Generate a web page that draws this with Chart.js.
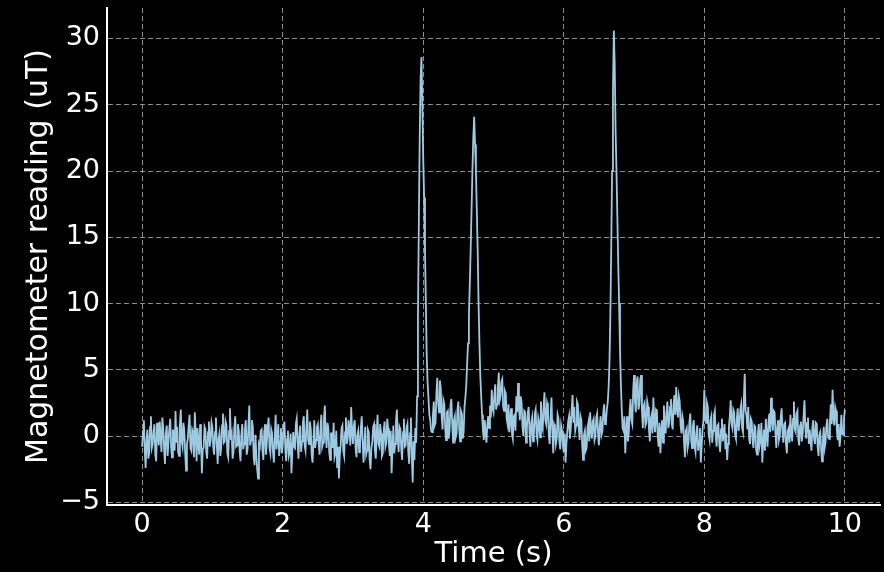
<!DOCTYPE html>
<html>
<head>
<meta charset="utf-8">
<script src="https://cdn.jsdelivr.net/npm/chart.js@4"></script>
<style>
  html, body { margin: 0; padding: 0; background: #000; }
  #wrap { width: 884px; height: 572px; }
</style>
</head>
<body>
<div id="wrap"><canvas id="chart" width="884" height="572"></canvas></div>
<script>
// sampling step of the readings (seconds)
const sampleStep = 0.0125;
const xTicks = [0, 2, 4, 6, 8, 10];
const yTicks = [-5, 0, 5, 10, 15, 20, 25, 30];

// magnetometer readings (uT), one every 12.5 ms from t = 0 to t = 10 s (one row = 0.5 s)
const readings = [
    -0.8, 0.4, 1.2, -1.1, -2.4, -0.3, 0.5, -1.7, -1.3, 0.7, 1.5, -0.9, -0.6, 0.3, 0.9, -1.4, -1.9, 1.0, 0.2, -0.7, 1.1, -0.1, -1.2, 1.4, 0.6, -1.0, -2.1, 0.2, 0.8, -1.5, -0.4, 0.6, 1.3, -0.8, -1.6, 0.5, 0.1, -1.1, 1.9, -0.5,
    0.7, -1.2, -1.5, 0.9, 2.0, -0.4, -0.8, 1.0, 0.4, -1.3, -2.6, -0.6, -0.2, 0.8, 1.6, -0.9, -1.1, 0.5, 0.3, -1.6, 1.8, 0.2, -1.9, 0.6, -0.5, -1.4, 0.9, -0.2, -2.8, -1.0, -0.9, 0.7, 0.5, -1.2, -1.7, 0.3, 1.1, -0.8, -0.3, 1.0,
    0.6, -0.9, -1.4, 0.3, 1.4, -0.6, -2.1, -0.2, 0.2, -1.5, -0.9, 0.8, 1.7, -0.5, -0.4, 1.1, 0.8, -1.3, -1.6, 0.4, 2.1, -0.3, 0.1, -1.7, -1.2, 0.6, 1.5, -0.8, -0.7, 0.9, 0.4, -1.2, -1.9, 0.1, 0.9, -1.0, -0.6, 0.5, 1.2, -1.4,
    -1.0, 0.8, 2.3, -0.7, -0.3, 1.2, 0.7, -1.6, -2.2, 0.1, -1.4, -2.5, -3.2, -0.6, -0.8, 0.4, 0.5, -1.1, -1.8, 0.3, 0.9, -1.4, -0.5, 0.7, 1.4, -0.9, -1.3, 0.5, 0.2, -1.2, -2.0, -0.1, 1.6, -1.0, -0.2, 0.9, -1.5, -0.4, 0.6, -1.3,
    -0.7, 0.6, 1.1, -1.0, -1.9, -0.2, 0.4, -1.5, -1.2, 0.2, -2.8, -1.1, 0.3, -0.8, -0.9, 0.9, 1.3, -0.5, -1.7, 0.1, 0.8, -1.2, -0.4, 1.0, 1.5, -0.7, -1.1, 0.6, 2.0, -0.3, -0.6, 1.1, 0.5, -1.4, -2.0, -0.5, 1.2, -0.9, -0.3, 0.7,
    0.9, -0.6, -1.4, 0.5, 1.6, -0.8, -0.5, 1.3, 2.3, 0.1, -0.9, 1.0, 0.6, -1.2, -1.8, 0.2, 0.2, -0.9, 1.0, -1.6, -1.3, 0.4, -2.4, -0.8, -3.2, -1.5, -0.7, 0.6, 0.8, -1.1, -1.5, 0.3, 1.4, -0.6, -0.2, 1.2, 0.5, -0.7, 2.2, 0.3,
    -0.6, 0.8, 1.2, -0.9, -1.6, 0.1, 0.4, -1.2, -0.9, 0.6, 1.5, -0.3, -2.0, -0.7, 0.7, -1.4, -1.1, 0.5, 0.3, -1.8, -2.5, -0.9, -0.4, 0.7, 0.9, -1.1, -1.7, 0.2, 1.6, -0.6, -0.8, 0.9, 0.2, -1.5, -1.3, 0.4, 1.1, -0.8, -0.5, 1.3,
    0.6, -0.7, -1.5, 0.4, -2.8, -0.9, 0.8, -1.3, -0.6, 1.1, 2.0, -0.2, -1.2, 0.7, 0.5, -1.0, -1.8, 0.3, 1.3, -0.8, -0.7, 0.6, 0.9, -1.2, -2.1, 0.2, 1.4, -1.6, -3.5, -0.4, -1.8, 0.6, -0.5, 3.0, 9.0, 16.0, 22.5, 27.0, 28.6, 25.0,
    21.0, 18.0, 14.0, 10.0, 6.0, 4.0, 2.8, 1.6, 1.2, 0.4, 0.3, 1.5, 2.6, 0.8, 1.0, 3.2, 4.4, 2.5, 1.8, 4.2, 3.6, 1.4, 0.5, 2.7, 2.4, 0.6, -0.3, 1.8, 1.9, -0.2, 0.4, 2.3, 2.8, 0.9, -0.5, 1.2, 1.5, -0.1, 0.2, 2.0,
    2.6, 0.5, -0.4, 1.9, 1.7, -0.2, 0.3, 2.2, 2.9, 3.8, 5.5, 7.0, 9.0, 11.5, 14.0, 17.0, 20.0, 22.5, 24.1, 22.0, 20.0, 17.0, 14.0, 10.0, 7.0, 4.5, 3.0, 1.6, 0.4, -0.3, 1.2, 0.2, -0.5, 0.9, 1.5, 0.6, 2.3, 1.4, 3.5, 2.1,
    1.8, 3.1, 3.9, 2.0, 2.4, 3.6, 4.8, 2.7, 3.0, 4.1, 4.3, 2.2, 1.9, 3.4, 3.2, 1.3, 0.9, 2.4, 0.3, 1.1, 2.1, 0.2, -0.2, 1.5, 1.6, 0.4, 3.0, 1.8, 4.0, 2.2, 1.2, 3.0, 2.5, 0.7, 0.0, 1.9, 1.8, -0.5, 0.6, 1.7,
    2.2, 0.3, -0.8, 1.0, 1.4, -0.4, 0.2, 1.7, 2.0, 0.1, -0.3, 1.4, 1.1, -0.1, 2.6, 0.8, 0.5, 2.1, 3.3, 1.2, 0.9, 2.5, 2.2, 0.0, -0.6, 1.3, 2.9, 0.4, -1.3, 0.9, 0.7, -0.6, -0.2, 1.6, 1.3, -0.4, -1.0, 0.8, 0.4, -0.7,
    -1.2, 0.2, -2.0, -0.6, 0.3, 1.1, 1.5, -0.2, 0.6, 2.0, 3.1, 1.0, 2.2, 0.4, 0.8, 2.6, 2.4, 0.7, -0.3, 1.5, 1.2, -0.7, -1.8, 0.1, 0.4, -1.1, -0.9, 0.6, 1.0, -0.4, 1.8, 0.5, -0.2, 1.1, 1.3, -0.3, 0.0, 1.4, 1.7, 0.2,
    -0.7, 0.8, 1.5, 0.1, 0.4, 1.8, 2.4, 0.9, 1.0, 2.0, 2.5, 3.6, 5.5, 9.0, 14.0, 20.0, 26.0, 30.6, 28.0, 23.0, 20.0, 16.5, 13.0, 10.0, 6.5, 4.0, 2.0, 0.6, 0.4, 1.5, -1.3, 0.3, 1.5, -0.4, 0.2, 1.9, 2.8, 1.2, 0.9, 3.4,
    4.6, 2.7, 1.8, 3.9, 4.5, 2.0, 2.4, 4.2, 4.6, 1.9, 0.6, 2.3, 2.5, 0.8, 1.0, 2.6, 2.2, 0.5, -0.4, 1.3, 1.6, 0.2, 2.9, 1.1, 0.3, 2.0, 1.9, -0.1, -0.8, 1.0, -1.3, 0.3, 1.2, -0.5, 2.3, 0.9, 0.2, 1.8, 2.6, 0.6,
    1.0, 2.2, 2.8, 0.9, 0.5, 2.4, 3.1, 1.6, 3.7, 2.1, 1.4, 3.0, 2.6, 0.8, 0.2, 1.5, 1.1, -0.6, -1.6, 0.4, 0.6, -0.9, -0.5, 1.0, 1.7, -0.3, -0.9, 0.7, 1.2, -0.8, -1.2, 0.3, 0.8, -1.1, -0.4, 0.6, -2.0, -0.7, 0.5, 1.2,
    3.5, 1.4, 1.0, 2.5, 2.2, 0.1, -0.3, 1.2, 1.5, -0.5, 0.4, 1.6, 1.9, 0.0, -0.8, 0.8, 0.9, -0.6, -1.2, 0.5, 1.3, -0.4, 0.1, 0.9, -1.0, 0.2, -1.8, -0.6, 0.7, 1.5, 2.7, 0.9, 0.6, 2.0, 1.8, 0.1, -0.2, 1.3, 2.1, 0.4,
    1.0, 2.0, 2.4, 0.6, 0.3, 2.8, 4.7, 1.9, 1.6, 0.5, 2.2, -0.2, -0.6, 1.3, 1.1, -0.4, -0.9, 0.8, 0.7, -1.0, -1.4, 0.2, 0.9, -0.7, -0.3, 1.0, -2.0, -0.5, 0.5, -1.1, 1.3, 0.0, -0.8, 1.1, 1.7, 0.3, 2.9, 1.2, 0.4, 1.9,
    1.8, 0.2, -0.9, 0.7, 1.2, -0.3, 0.0, 1.4, 2.1, 0.3, -0.5, 0.9, 1.0, -0.6, -1.3, 0.4, 0.6, -0.5, 1.6, 0.2, -0.4, 1.3, 2.6, 0.5, 0.3, 1.7, 1.9, -0.2, -0.7, 0.8, 1.1, -0.4, 0.2, 1.5, 2.7, 0.6, -0.2, 1.0, 1.4, -0.6,
    0.5, -0.4, -1.1, 0.6, 1.2, -0.2, -0.6, 1.0, 0.9, -0.8, -1.5, 0.1, 0.3, -1.0, -1.9, -0.3, 0.7, -0.9, -0.5, 0.8, 1.3, -0.1, -0.2, 1.1, 2.4, 0.9, 3.5, 1.4, 0.8, 2.2, 1.9, 0.3, -0.3, 0.9, -0.8, -0.1, 1.6, 0.2, 0.1, 1.3,
    2.0
];

const points = readings.map((v, i) => ({ x: i * sampleStep, y: v }));

const gridStyle = { color: "rgba(176,176,176,0.8)", lineWidth: 1, drawTicks: false };
const borderStyle = { display: true, color: "#ffffff", width: 2, dash: [5, 3] };

// keep the plot area exactly where the reference has it
function noPadding(s) {
    s.paddingTop = 0;
    s.paddingBottom = 0;
    s.paddingLeft = 0;
    s.paddingRight = 0;
}

new Chart(document.getElementById("chart"), {
    type: "line",
    data: {
        datasets: [{
            data: points,
            borderColor: "#9ecae1",
            borderWidth: 1.8,
            pointRadius: 0,
            tension: 0,
            fill: false
        }]
    },
    options: {
        responsive: false,
        animation: false,
        layout: { padding: { top: 8, right: 4, left: 0, bottom: 0 } },
        plugins: { legend: { display: false }, tooltip: { enabled: false } },
        scales: {
            x: {
                type: "linear",
                min: -0.5,
                max: 10.5,
                afterFit: (s) => { s.height = 67; noPadding(s); },
                afterBuildTicks: (s) => { s.ticks = xTicks.map(v => ({ value: v })); },
                grid: gridStyle,
                border: borderStyle,
                ticks: { color: "#fff", padding: 4, font: { family: "DejaVu Sans", size: 27 } },
                title: {
                    display: true, text: "Time (s)", color: "#fff",
                    font: { family: "DejaVu Sans", size: 29 }, padding: { top: 0, bottom: 0 }
                }
            },
            y: {
                min: -5.2,
                max: 32.3,
                afterFit: (s) => { s.width = 107; noPadding(s); },
                afterBuildTicks: (s) => { s.ticks = yTicks.map(v => ({ value: v })); },
                grid: gridStyle,
                border: borderStyle,
                ticks: {
                    color: "#fff", padding: 7, font: { family: "DejaVu Sans", size: 27 },
                    callback: (v) => String(v).replace("-", "\u2212")
                },
                title: {
                    display: true, text: "Magnetometer reading (uT)", color: "#fff",
                    font: { family: "DejaVu Sans", size: 30 }, padding: { top: 21, bottom: 0 }
                }
            }
        }
    }
});
</script>
</body>
</html>
